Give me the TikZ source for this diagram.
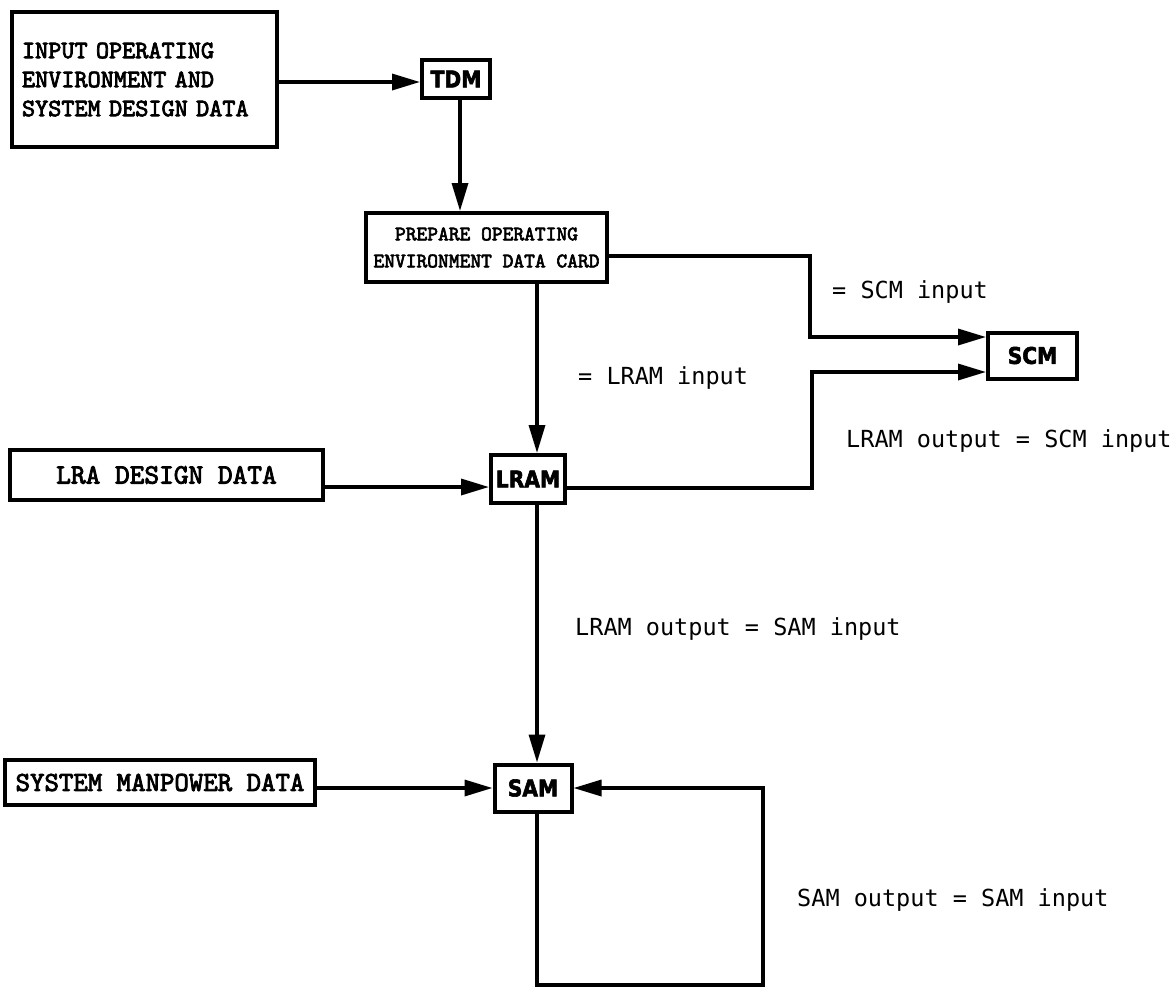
\documentclass[tikz,border=0pt]{standalone}
\usepackage{fontspec}
\setmainfont{Liberation Serif}
\newfontfamily\lblfont{DejaVu Sans Mono}
\newfontfamily\heavyfont{DejaVu Sans Bold}[FakeBold=2.5, FakeStretch=0.88]
\newfontfamily\twfont{lmmono10-regular.otf}[FakeBold=3]
\usetikzlibrary{arrows.meta}
\tikzset{
  databox/.style={draw, line width=4pt, inner sep=0pt},
  modbox/.style={draw, line width=4pt, inner sep=0pt, font=\heavyfont\fontsize{23}{23}\selectfont},
  flow/.style={line width=3.4pt, line join=miter, -{Triangle[length=28pt,width=16pt]}},
  lbl/.style={font=\lblfont\fontsize{23.5}{24}\selectfont, anchor=west, inner sep=0pt}
}
\begin{document}
\begin{tikzpicture}[x=1pt,y=-1pt]
\useasboundingbox[fill=white] (0,0) rectangle (1174,994);
% data boxes
\node[databox, minimum width=265pt, minimum height=135pt, text width=245pt, align=left,
      font=\twfont\fontsize{25}{29}\selectfont] (inp) at (144.5,79.5)
  {INPUT OPERATING\\ENVIRONMENT AND\\SYSTEM DESIGN DATA};
\node[databox, minimum width=241pt, minimum height=69pt, align=center,
      font=\twfont\fontsize{20.5}{27}\selectfont] (prep) at (486.5,247.5)
  {PREPARE OPERATING\\ENVIRONMENT DATA CARD};
\node[databox, minimum width=313pt, minimum height=50pt,
      font=\twfont\fontsize{28}{28}\selectfont] (lra) at (166.5,475)
  {LRA DESIGN DATA};
\node[databox, minimum width=310pt, minimum height=45pt,
      font=\twfont\fontsize{27.5}{28}\selectfont] (smd) at (160,782.5)
  {SYSTEM MANPOWER DATA};
% module boxes
\node[modbox, minimum width=68pt, minimum height=38pt] (tdm) at (456,79) {TDM};
\node[modbox, minimum width=89pt, minimum height=46pt] (scm) at (1032.5,355.5) {SCM};
\node[modbox, minimum width=74pt, minimum height=48pt] (lram) at (528,479) {LRAM};
\node[modbox, minimum width=77pt, minimum height=47pt] (sam) at (533,788) {SAM};
% helper coordinates
\coordinate (p1) at (810,256);
\coordinate (p2) at (810,337);
\coordinate (q1) at (812,488);
\coordinate (q2) at (812,372);
\coordinate (l1) at (537,985);
\coordinate (l2) at (763,985);
\coordinate (l3) at (763,788);
% connectors
\draw[flow] (inp.east |- 0,82) -- (tdm.west |- 0,82);
\draw[flow] (tdm.south -| 460,0) -- (prep.north -| 460,0);
\draw[flow] (prep.east |- p1) -- (p1) -- (p2) -- (scm.west |- p2);
\draw[flow] (lram.east |- q1) -- (q1) -- (q2) -- (scm.west |- q2);
\draw[flow] (prep.south -| 537,0) -- (lram.north -| 537,0);
\draw[flow] (lra.east |- 0,487) -- (lram.west |- 0,487);
\draw[flow] (lram.south -| 537,0) -- (sam.north -| 537,0);
\draw[flow] (smd.east |- 0,788) -- (sam.west |- 0,788);
\draw[flow] (sam.south -| 537,0) -- (l1) -- (l2) -- (l3) -- (sam.east |- l3);
% labels
\node[lbl] (t1) at (832,292) {= SCM input};
\node[lbl] (t2) at (578,378) {= LRAM input};
\node[lbl] (t3) at (846,441) {LRAM output = SCM input};
\node[lbl] (t4) at (575,629) {LRAM output = SAM input};
\node[lbl] (t5) at (797,900) {SAM output = SAM input};
\end{tikzpicture}
\end{document}
